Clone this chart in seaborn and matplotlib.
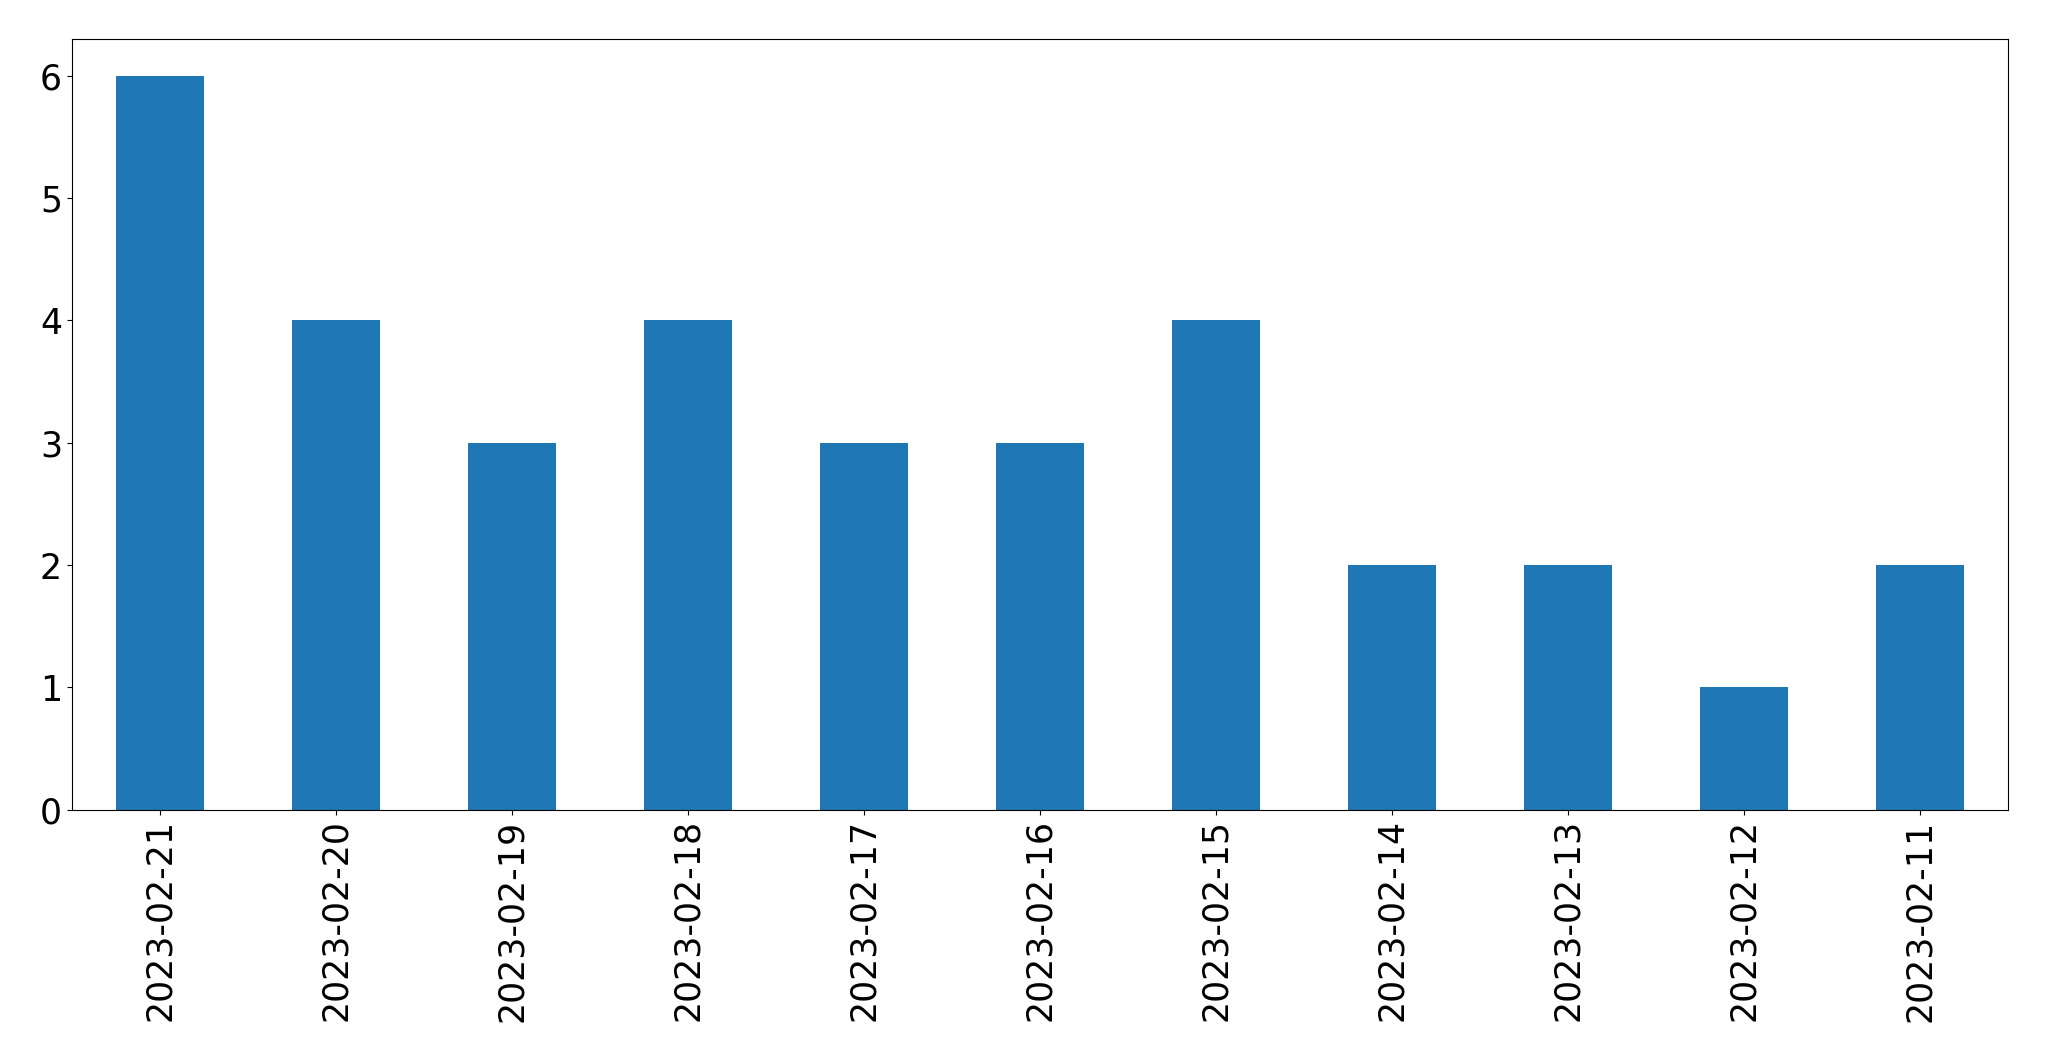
import matplotlib

matplotlib.use("Agg")
import matplotlib.pyplot as plt
import seaborn as sns

DATES = [
    "2023-02-21", "2023-02-20", "2023-02-19", "2023-02-18", "2023-02-17",
    "2023-02-16", "2023-02-15", "2023-02-14", "2023-02-13", "2023-02-12",
    "2023-02-11",
]
COUNTS = [6, 4, 3, 4, 3, 3, 4, 2, 2, 1, 2]

BAR_COLOR = "#1f77b4"


def main() -> None:
    fig, ax = plt.subplots(figsize=(20.49, 10.61), dpi=100)
    sns.barplot(x=DATES, y=COUNTS, color=BAR_COLOR, saturation=1, width=0.5, ax=ax)
    ax.set_xlim(-0.5, len(DATES) - 0.5)
    ax.set_ylim(0, max(COUNTS) * 1.05)
    ax.tick_params(axis="both", labelsize=25)
    ax.tick_params(axis="x", labelrotation=90)
    for side in ax.spines.values():
        side.set_visible(True)
        side.set_color("black")
    fig.subplots_adjust(left=0.035, right=0.98, top=0.963, bottom=0.237)
    fig.savefig("out.png", dpi=100)
    plt.close(fig)


if __name__ == "__main__":
    main()
